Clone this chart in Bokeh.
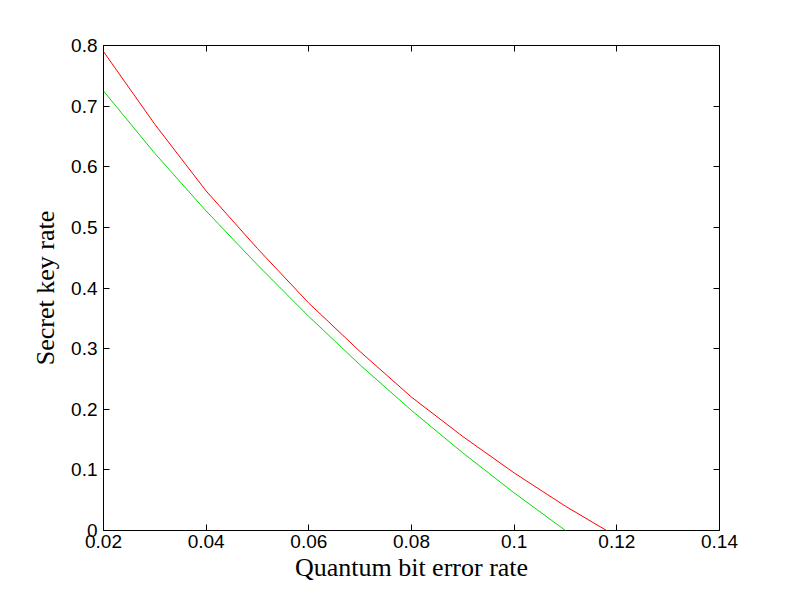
from bokeh.plotting import figure
from bokeh.models import LinearAxis, FixedTicker, Range1d
from bokeh.embed import file_html
from bokeh.resources import INLINE

# Data
x_ticks = [0.02, 0.04, 0.06, 0.08, 0.1, 0.12, 0.14]
x_tick_labels = ["0.02", "0.04", "0.06", "0.08", "0.1", "0.12", "0.14"]
y_ticks = [0, 0.1, 0.2, 0.3, 0.4, 0.5, 0.6, 0.7, 0.8]
y_tick_labels = ["0", "0.1", "0.2", "0.3", "0.4", "0.5", "0.6", "0.7", "0.8"]

red_qber = [0.02, 0.03, 0.04, 0.05, 0.06, 0.07, 0.08, 0.09, 0.10, 0.11, 0.118]
red_rate = [0.79, 0.67, 0.56, 0.465, 0.375, 0.295, 0.22, 0.155, 0.095, 0.04, 0.0]

green_qber = [0.02, 0.03, 0.04, 0.05, 0.06, 0.07, 0.08, 0.09, 0.10, 0.11]
green_rate = [0.725, 0.622, 0.527, 0.438, 0.353, 0.273, 0.198, 0.128, 0.062, 0.0]

p = figure(output_backend="svg", toolbar_location=None,
           frame_width=616, frame_height=485,
           x_range=Range1d(0.02, 0.14), y_range=Range1d(0, 0.8),
           min_border_left=103, min_border_top=45, min_border_right=40,
           min_border_bottom=40)
p.background_fill_color = "white"
p.border_fill_color = "white"
p.outline_line_color = "black"
p.outline_line_width = 1
p.grid.visible = False

p.line(red_qber, red_rate, line_color="#ff0000", line_width=1)
p.line(green_qber, green_rate, line_color="#00dd00", line_width=1)

xt = FixedTicker(ticks=x_ticks)
yt = FixedTicker(ticks=y_ticks)

def style_axis(ax, show_labels):
    ax.major_tick_in = 6
    ax.major_tick_out = 0
    ax.minor_tick_line_color = None
    ax.axis_line_color = None
    ax.major_tick_line_color = "black"
    ax.major_label_text_font = "Liberation Sans"
    ax.major_label_text_font_size = "19px"
    ax.major_label_text_color = "black"
    ax.major_label_standoff = 6
    if not show_labels:
        ax.major_label_text_alpha = 0
        ax.major_label_text_font_size = "1px"

xa = p.xaxis[0]
xa.ticker = xt
xa.major_label_overrides = {t: l for t, l in zip(x_ticks, x_tick_labels)}
style_axis(xa, True)
xa.major_label_standoff = 4
xa.axis_label = "Quantum bit error rate"
xa.axis_label_text_font = "Liberation Serif"
xa.axis_label_text_font_style = "normal"
xa.axis_label_text_font_size = "26px"
xa.axis_label_text_color = "black"
xa.axis_label_standoff = 2

ya = p.yaxis[0]
ya.ticker = yt
ya.major_label_overrides = {t: l for t, l in zip(y_ticks, y_tick_labels)}
style_axis(ya, True)
ya.axis_label = "Secret key rate"
ya.axis_label_text_font = "Liberation Serif"
ya.axis_label_text_font_style = "normal"
ya.axis_label_text_font_size = "26px"
ya.axis_label_text_color = "black"
ya.axis_label_standoff = 8

ra = LinearAxis(ticker=yt)
style_axis(ra, False)
p.add_layout(ra, "right")
ta = LinearAxis(ticker=xt)
style_axis(ta, False)
p.add_layout(ta, "above")

open("out.html", "w").write(file_html(p, INLINE))
